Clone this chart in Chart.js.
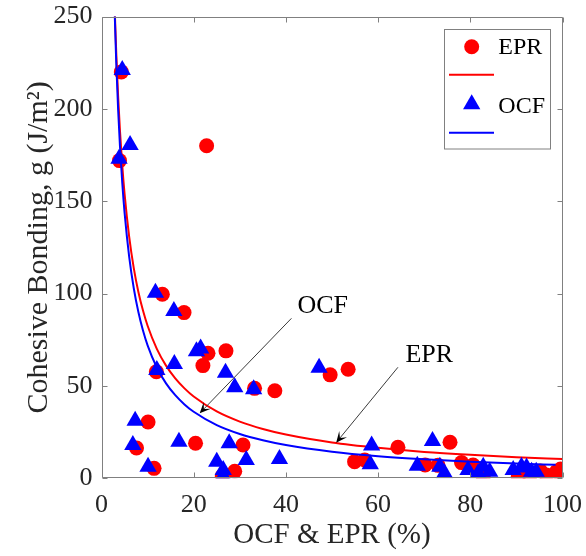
<!DOCTYPE html>
<html>
<head>
<meta charset="utf-8">
<script src="https://cdn.jsdelivr.net/npm/chart.js@4/dist/chart.umd.min.js"></script>
<style>
  html, body { margin: 0; padding: 0; background: #fff; }
  canvas { display: block; }
</style>
</head>
<body>
<canvas id="chart" width="586" height="556"></canvas>
<script>
// Axis ticks
const xTicks = [0, 20, 40, 60, 80, 100];
const yTicks = [0, 50, 100, 150, 200, 250];

// EPR measurements (%, J/m^2)
const eprX = [4.3, 3.9, 22.8, 13.2, 17.9, 27.0, 23.1, 22.0, 11.9, 33.2, 37.6, 49.6, 53.5, 10.1, 7.6,
              20.4, 30.7, 11.4, 28.9, 26.2, 54.9, 57.1, 64.3, 75.6, 70.2, 73.0, 78.1, 80.6, 82.8, 90.4,
              92.9, 95.2, 96.5, 98.7, 99.6];
const eprY = [220, 172, 180, 99.6, 89.7, 69.0, 67.7, 61.0, 57.7, 48.7, 47.4, 56.0, 59.0, 30.5, 16.4,
              19.0, 18.0, 5.4, 3.8, 1.2, 9.0, 9.9, 16.8, 19.5, 7.2, 7.0, 8.5, 7.2, 0.8, 0.8,
              1.2, 4.0, 1.8, 3.6, 5.0];

// OCF measurements (%, J/m^2)
const ocfX = [4.5, 6.2, 3.8, 11.7, 15.7, 20.6, 21.5, 15.8, 12.0, 26.9, 28.9, 33.0, 47.2, 7.3, 6.8,
              16.8, 27.7, 31.4, 38.6, 10.1, 25.0, 26.4, 26.4, 58.6, 58.3, 71.8, 68.5, 73.4, 74.4, 79.5,
              82.8, 84.2, 81.7, 89.3, 91.1, 92.2, 93.3, 94.3];
const ocfY = [221, 180.4, 173, 100.5, 90.6, 68.8, 70.3, 61.9, 58.6, 57.2, 49.3, 48.2, 59.9, 31.2, 18.0,
              19.8, 19.0, 9.9, 10.4, 6.3, 9.0, 4.5, 1.2, 17.8, 7.6, 20.2, 6.8, 6.3, 2.7, 4.5,
              6.3, 3.6, 2.7, 4.5, 6.3, 5.8, 3.6, 3.6];

// Fitted trend curves
const eprFitX = [2.9, 3.2, 3.6, 4, 4.5, 5, 6, 7, 8, 9, 10, 12, 14, 16, 18, 20, 25, 30, 35, 40, 50, 60, 70, 80, 90, 100];
const eprFitY = [251.6, 230.3, 207.1, 188.4, 169.4, 154.1, 130.8, 113.8, 100.9, 90.8, 82.6, 70.1, 61.0, 54.1, 48.7, 44.3,
                 36.2, 30.7, 26.7, 23.7, 19.4, 16.5, 14.3, 12.7, 11.4, 10.4];
const ocfFitX = [2.8, 3.2, 3.6, 4, 4.5, 5, 6, 7, 8, 9, 10, 12, 14, 16, 18, 20, 25, 30, 35, 40, 50, 60, 70, 80, 90, 98.5];
const ocfFitY = [257, 225, 200, 180, 160, 144, 120, 102.9, 90, 80, 72, 60, 51.4, 45, 40, 36,
                 28.8, 24, 20.6, 18, 14.4, 12, 10.3, 9, 8, 7.3];

const RED = '#ff0000';
const BLUE = '#0000ff';
const FONT = "'Liberation Serif', 'Times New Roman', serif";
const TEXT = '#262626';
const AXIS = '#808080';

const pts = (xs, ys) => xs.map((x, i) => ({ x: x, y: ys[i] }));

// Box, inward ticks, arrows with labels and the legend
const decorations = {
  id: 'decorations',
  afterDatasetsDraw(chart) {
    const { ctx, chartArea: a, scales: { x, y } } = chart;
    const L = Math.round(a.left) + 0.5, R = Math.round(a.right) - 0.5;
    const T = Math.round(a.top) + 0.5, B = Math.round(a.bottom) - 0.5;
    ctx.save();
    ctx.strokeStyle = AXIS;
    ctx.lineWidth = 1;
    ctx.beginPath();
    ctx.rect(L, T, R - L, B - T);
    xTicks.forEach(v => {
      const px = Math.round(x.getPixelForValue(v)) + 0.5;
      ctx.moveTo(px, B); ctx.lineTo(px, B - 5);
      ctx.moveTo(px, T); ctx.lineTo(px, T + 5);
    });
    yTicks.forEach(v => {
      const py = Math.round(y.getPixelForValue(v)) + 0.5;
      ctx.moveTo(L, py); ctx.lineTo(L + 5, py);
      ctx.moveTo(R, py); ctx.lineTo(R - 5, py);
    });
    ctx.stroke();

    // annotation arrows
    const arrow = (x0, y0, x1, y1) => {
      const sx = x.getPixelForValue(x0), sy = y.getPixelForValue(y0);
      const ex = x.getPixelForValue(x1), ey = y.getPixelForValue(y1);
      const ang = Math.atan2(ey - sy, ex - sx);
      ctx.strokeStyle = '#3a3a3a';
      ctx.lineWidth = 1;
      ctx.beginPath();
      ctx.moveTo(sx, sy);
      ctx.lineTo(ex - Math.cos(ang) * 6, ey - Math.sin(ang) * 6);
      ctx.stroke();
      const len = 11, half = 5, notch = 6;
      const c = Math.cos(ang), s = Math.sin(ang);
      ctx.fillStyle = '#000';
      ctx.beginPath();
      ctx.moveTo(ex, ey);
      ctx.lineTo(ex - c * len - s * half, ey - s * len + c * half);
      ctx.lineTo(ex - c * notch, ey - s * notch);
      ctx.lineTo(ex - c * len + s * half, ey - s * len - c * half);
      ctx.closePath();
      ctx.fill();
    };
    arrow(41.2, 86.6, 21.3, 35.2);
    arrow(64.3, 60.1, 50.9, 19.3);

    ctx.fillStyle = '#000';
    ctx.font = '26px ' + FONT;
    ctx.textAlign = 'center';
    ctx.textBaseline = 'alphabetic';
    ctx.fillText('OCF', x.getPixelForValue(48.0), y.getPixelForValue(89.4));
    ctx.fillText('EPR', x.getPixelForValue(71.1), y.getPixelForValue(63.1));

    // legend
    const lx = 444.5, ly = 29.5, lw = 106, lh = 119.5;
    ctx.fillStyle = '#fff';
    ctx.fillRect(lx, ly, lw, lh);
    ctx.strokeStyle = AXIS;
    ctx.lineWidth = 1;
    ctx.strokeRect(lx, ly, lw, lh);

    ctx.fillStyle = RED;
    ctx.beginPath();
    ctx.arc(471.7, 46.7, 7.5, 0, Math.PI * 2);
    ctx.fill();
    ctx.strokeStyle = RED;
    ctx.lineWidth = 2;
    ctx.beginPath();
    ctx.moveTo(449, 74.7); ctx.lineTo(494, 74.7);
    ctx.stroke();

    ctx.fillStyle = BLUE;
    ctx.beginPath();
    const tr = 10, tcx = 471.7, tcy = 104.3;
    ctx.moveTo(tcx, tcy - tr);
    ctx.lineTo(tcx + tr * Math.sin(2 * Math.PI / 3), tcy + tr / 2);
    ctx.lineTo(tcx - tr * Math.sin(2 * Math.PI / 3), tcy + tr / 2);
    ctx.closePath();
    ctx.fill();
    ctx.strokeStyle = BLUE;
    ctx.lineWidth = 2;
    ctx.beginPath();
    ctx.moveTo(449, 132.7); ctx.lineTo(494, 132.7);
    ctx.stroke();

    ctx.fillStyle = '#000';
    ctx.font = '24px ' + FONT;
    ctx.textAlign = 'left';
    ctx.fillText('EPR', 498.3, 54.3);
    ctx.fillText('OCF', 498.3, 112.7);
    ctx.restore();
  }
};

new Chart(document.getElementById('chart'), {
  type: 'scatter',
  data: {
    datasets: [
      { label: 'OCF fit', type: 'line', data: pts(ocfFitX, ocfFitY), borderColor: BLUE, borderWidth: 2,
        pointRadius: 0, fill: false, cubicInterpolationMode: 'monotone', clip: 0, order: 0 },
      { label: 'OCF', data: pts(ocfX, ocfY), pointStyle: 'triangle', pointRadius: 10,
        backgroundColor: BLUE, borderColor: BLUE, borderWidth: 0, order: 1 },
      { label: 'EPR fit', type: 'line', data: pts(eprFitX, eprFitY), borderColor: RED, borderWidth: 2,
        pointRadius: 0, fill: false, cubicInterpolationMode: 'monotone', clip: 0, order: 2 },
      { label: 'EPR', data: pts(eprX, eprY), pointStyle: 'circle', pointRadius: 7.5,
        backgroundColor: RED, borderColor: RED, borderWidth: 0, order: 3 }
    ]
  },
  options: {
    responsive: false,
    animation: false,
    devicePixelRatio: 1,
    layout: { padding: { left: 0, top: 16.5, right: 23.5, bottom: 0 } },
    plugins: { legend: { display: false }, tooltip: { enabled: false } },
    scales: {
      x: {
        type: 'linear', position: 'bottom', min: 0, max: 100,
        afterBuildTicks: s => { s.ticks = xTicks.map(v => ({ value: v })); },
        afterFit: s => { s.height = 77.7; s.paddingLeft = 0; s.paddingRight = 0; },
        grid: { display: false, drawTicks: false },
        border: { display: false },
        ticks: { font: { family: FONT, size: 26 }, color: TEXT, padding: 11, maxRotation: 0, autoSkip: false },
        title: { display: true, text: 'OCF & EPR (%)', font: { family: FONT, size: 29 }, color: TEXT,
                 padding: { top: 0, bottom: 3 } }
      },
      y: {
        type: 'linear', position: 'left', min: 0, max: 250,
        afterBuildTicks: s => { s.ticks = yTicks.map(v => ({ value: v })); },
        afterFit: s => { s.width = 101.5; s.paddingTop = 0; s.paddingBottom = 0; },
        grid: { display: false, drawTicks: false },
        border: { display: false },
        ticks: { font: { family: FONT, size: 26 }, color: TEXT, padding: 9, autoSkip: false },
        title: { display: true, text: 'Cohesive Bonding, g (J/m²)', font: { family: FONT, size: 30 }, color: TEXT,
                 padding: { top: 21, bottom: 0 } }
      }
    }
  },
  plugins: [decorations]
});
</script>
</body>
</html>
